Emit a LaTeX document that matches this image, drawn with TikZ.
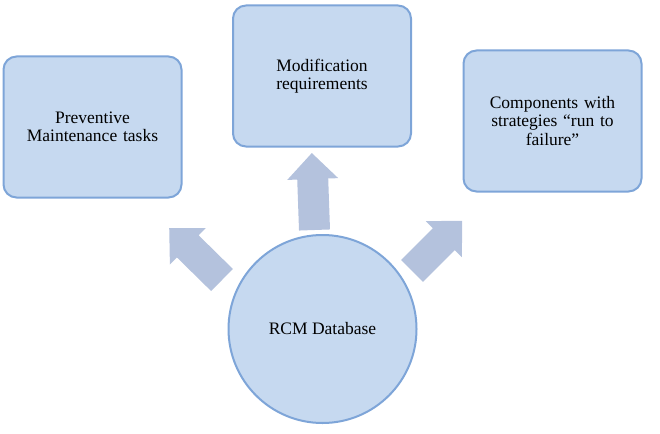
\documentclass[tikz,border=0pt]{standalone}
\usepackage{fontspec}
\setmainfont{Liberation Serif}
\definecolor{boxfill}{RGB}{198,217,240}
\definecolor{boxline}{RGB}{126,165,216}
\definecolor{arrfill}{RGB}{180,194,221}
\newcommand{\blkarrow}[4]{%
  \fill[arrfill, shift={(#1,#2)}, rotate=#3]
    (0,-15.5) -- (#4-26,-15.5) -- (#4-26,-25.5) -- (#4,0) -- (#4-26,25.5) -- (#4-26,15.5) -- (0,15.5) -- cycle;}
\begin{document}
\begin{tikzpicture}[x=1pt,y=-1pt,
  boxstyle/.style={draw=boxline, line width=2pt, fill=boxfill, rounded corners=13pt,
    minimum width=178pt, minimum height=141pt, inner sep=0pt, align=center,
    font=\fontsize{17.5}{18.5}\selectfont, text width=160pt},
  circstyle/.style={circle, draw=boxline, line width=2pt, fill=boxfill,
    minimum size=188pt, inner sep=0pt, font=\fontsize{17.5}{18.5}\selectfont}]
\useasboundingbox (0,0) rectangle (660,433);
\node[boxstyle] (pm) at (92.5,127) {Preventive\\Maintenance tasks};
\node[boxstyle] (mr) at (322,76) {Modification\\requirements};
\node[boxstyle] (cs) at (552.5,121) {Components with\\strategies “run to\\failure”};
\blkarrow{314.5}{230}{92}{77}
\blkarrow{222}{280}{135.5}{74}
\blkarrow{412}{271}{45}{71}
\node[circstyle] (db) at (322.5,329) {RCM Database};
\end{tikzpicture}
\end{document}
